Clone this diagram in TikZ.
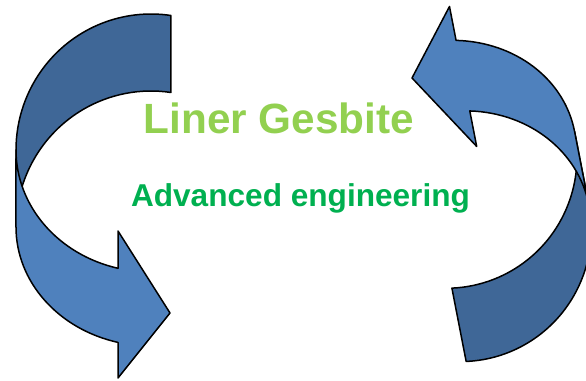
\documentclass[tikz,border=0pt]{standalone}
\usepackage{fontspec}
\setmainfont{Liberation Sans}
\usepackage{tikz}
\usetikzlibrary{positioning}
\definecolor{backblue}{RGB}{63,103,151}
\definecolor{frontblue}{RGB}{79,129,189}
\definecolor{leafgreen}{RGB}{146,208,80}
\definecolor{deepgreen}{RGB}{0,176,80}

\begin{document}
\begin{tikzpicture}[x=1pt,y=1pt,
    backband/.style={fill=backblue,draw=black,line width=1.5pt,line join=round},
    frontband/.style={fill=frontblue,draw=black,line width=1.5pt,line join=round},
    wordmark/.style={font=\bfseries,inner sep=0pt,anchor=base}]
  \useasboundingbox (0,0) rectangle (586,380);

  % Curved arrows (tip x / tip y / turn / size)
  \foreach \tx/\ty/\rot/\sc in {170/67/0/1, 412/302/-169/0.97} {
    \begin{scope}[shift={(\tx,\ty)},rotate=\rot,scale=\sc]
      % back band (tail)
      \path[backband] (-19,163) ++(81.5:135 and 136)
        arc[start angle=81.5, end angle=180, x radius=135, y radius=136]
        -- ++(0,-77)
        arc[start angle=180, end angle=81.5, x radius=135, y radius=136]
        -- cycle;
      % front band (head)
      \path[frontband] (-154,163)
        arc[start angle=180, end angle=255.85, x radius=135, y radius=122]
        -- (-52,82) -- (0,0) -- (-52,-65) -- (-52,-29.4)
        arc[start angle=255.85, end angle=180, x radius=135, y radius=119]
        -- cycle;
    \end{scope}
  }

  % Texts
  \node[wordmark,text=leafgreen,font=\bfseries\fontsize{42.3}{48}\selectfont]
    (name) at (279,246) {Liner Gesbite};
  \node[wordmark,text=deepgreen,font=\bfseries\fontsize{31.6}{36}\selectfont]
    (tagline) at (300.5,173) {Advanced engineering};
\end{tikzpicture}
\end{document}
